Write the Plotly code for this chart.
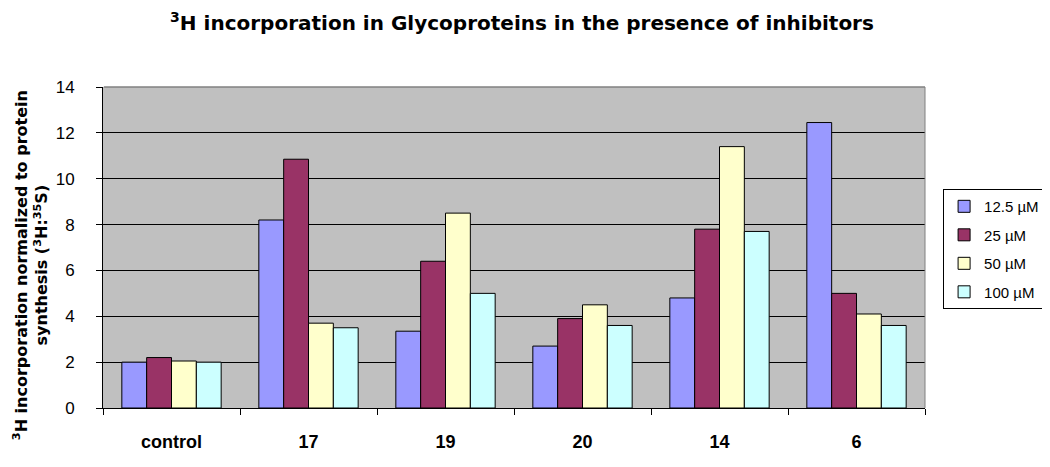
import plotly.graph_objects as go

categories = ["control", "17", "19", "20", "14", "6"]
series_names = ["12.5 µM", "25 µM", "50 µM", "100 µM"]
v_12_5 = [2.0, 8.2, 3.35, 2.7, 4.8, 12.45]
v_25 = [2.2, 10.85, 6.4, 3.9, 7.8, 5.0]
v_50 = [2.05, 3.7, 8.5, 4.5, 11.4, 4.1]
v_100 = [2.0, 3.5, 5.0, 3.6, 7.7, 3.6]
colors = ["#9999FF", "#993366", "#FFFFCC", "#CCFFFF"]
y_ticks = [0, 2, 4, 6, 8, 10, 12, 14]

# The page body has a default 8px margin, so the figure is sized to fit the window.
fig = go.Figure()
for name, vals, col in zip(series_names, [v_12_5, v_25, v_50, v_100], colors):
    fig.add_trace(go.Bar(x=categories, y=vals, name=name, legendgroup=name,
                         marker=dict(color=col, line=dict(color="black", width=1))))

fig.update_layout(
    width=1042, height=459,
    margin=dict(l=95, r=125, t=79, b=59, autoexpand=False),
    paper_bgcolor="white", plot_bgcolor="#C0C0C0",
    barmode="group", bargap=0.275, bargroupgap=0,
    font=dict(family="Liberation Sans, Arial", color="black"),
    title=dict(text="<sup>3</sup>H incorporation in Glycoproteins in the presence of inhibitors",
               x=514 / 1042, xanchor="center", y=0.967, yanchor="middle",
               font=dict(family="DejaVu Sans", size=20, weight="bold")),
    legend=dict(x=1.022, y=0.682, xanchor="left", yanchor="top",
                bordercolor="black", borderwidth=1, bgcolor="white",
                font=dict(size=15), tracegroupgap=6, itemwidth=30),
    showlegend=True,
)
fig.update_xaxes(
    automargin=False,
    showline=True, linecolor="black", linewidth=1,
    ticks="outside", tickson="boundaries", ticklen=6, tickcolor="black",
    ticklabelstandoff=17,
    tickfont=dict(family="Liberation Sans", size=18, weight="bold"),
    showgrid=False,
)
fig.update_yaxes(
    automargin=False,
    range=[0, 14], tickvals=y_ticks,
    showline=True, linecolor="black", linewidth=1,
    ticks="outside", ticklen=6, tickcolor="black", ticklabelstandoff=18,
    tickfont=dict(size=17),
    showgrid=True, gridcolor="black", gridwidth=1,
    zeroline=False,
)
fig.add_annotation(
    text="<sup>3</sup>H incorporation normalized to protein<br>synthesis (<sup>3</sup>H:<sup>35</sup>S)",
    xref="paper", yref="paper", x=-(95 - 23) / 822, y=0.445,
    xanchor="center", yanchor="middle", textangle=-90, showarrow=False,
    font=dict(family="DejaVu Sans", size=16, weight="bold"),
)
# grey plot-area border on the top and right
fig.add_shape(type="line", xref="paper", yref="paper", x0=1, x1=1, y0=0, y1=1,
              line=dict(color="#808080", width=1))
fig.add_shape(type="line", xref="paper", yref="paper", x0=0.001, x1=1, y0=1, y1=1,
              line=dict(color="#808080", width=1.5))

fig.write_html("out.html")
